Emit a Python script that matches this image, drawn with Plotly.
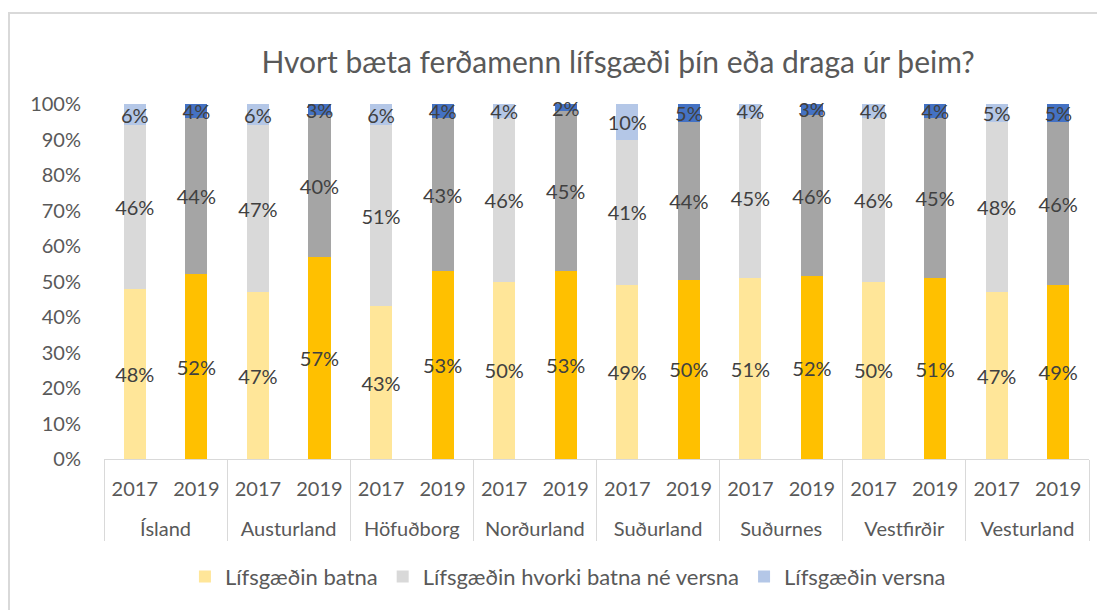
import plotly.graph_objects as go

regions = ["Ísland", "Austurland", "Höfuðborg", "Norðurland", "Suðurland", "Suðurnes", "Vestfirðir", "Vesturland"]
years = ["2017", "2019"]

# values per bar, order: region x year (2017, 2019)
batna = [48, 52, 47, 57, 43, 53, 50, 53, 49, 50, 51, 52, 50, 51, 47, 49]
hvorki = [46, 44, 47, 40, 51, 43, 46, 45, 41, 44, 45, 46, 46, 45, 48, 46]
versna = [6, 4, 6, 3, 6, 4, 4, 2, 10, 5, 4, 3, 4, 4, 5, 5]

series_names = ["Lífsgæðin batna", "Lífsgæðin hvorki batna né versna", "Lífsgæðin versna"]
title = "Hvort bæta ferðamenn lífsgæði þín eða draga úr þeim?"

colors = {
    "2017": ["#FFE699", "#D9D9D9", "#B4C7E7"],
    "2019": ["#FFC000", "#A5A5A5", "#4472C4"],
}

FONT = "Lato"
W, H = 1097, 602
L, R, T, B = 96, 16, 96, 147
PW, PH = W - L - R, H - T - B

# outer level labels get a leading line break to push them lower (like the reference)
x_outer = ["<br>" + r for r in regions for _ in years]
x_inner = [y for _ in regions for y in years]

fig = go.Figure()
for i, (name, vals) in enumerate(zip(series_names, [batna, hvorki, versna])):
    fig.add_trace(go.Bar(
        x=[x_outer, x_inner],
        y=vals,
        name=name,
        marker=dict(color=[colors[y][i] for y in x_inner], line=dict(width=0)),
        text=[f"{v}%" for v in vals],
        textposition="inside",
        insidetextanchor="middle",
        textangle=0,
        textfont=dict(family=FONT, size=20, color="#404040"),
        cliponaxis=False,
        hoverinfo="y+name",
    ))

fig.update_layout(
    barmode="stack",
    barnorm="percent",
    bargap=0.64,
    width=W,
    height=H,
    margin=dict(l=L, r=R, t=T, b=B),
    paper_bgcolor="white",
    plot_bgcolor="white",
    font=dict(family=FONT, color="#595959"),
    uniformtext=dict(minsize=20, mode="show"),
    title=dict(text=title, x=610 / W, xanchor="center", y=1 - 54 / H, yanchor="middle",
               font=dict(family=FONT, size=30, color="#595959")),
    legend=dict(orientation="h", x=0.471, xanchor="center", y=(455 - 574) / PH, yanchor="middle",
                font=dict(family=FONT, size=22, color="#595959"), traceorder="normal",
                itemwidth=30),
    xaxis=dict(
        type="multicategory",
        showline=True, linecolor="#D9D9D9", linewidth=1,
        showdividers=True, dividercolor="#D9D9D9", dividerwidth=1,
        tickfont=dict(family=FONT, size=20, color="#595959"),
        ticklabelstandoff=12,
        showgrid=False, zeroline=False,
    ),
    yaxis=dict(
        range=[0, 100.05], tickmode="linear", tick0=0, dtick=10, ticksuffix="%",
        showgrid=False, zeroline=False, showline=False,
        tickfont=dict(family=FONT, size=20, color="#595959"),
        ticklabelstandoff=22,
    ),
    shapes=[dict(type="rect", xref="paper", yref="paper",
                 x0=(1 - L) / PW, x1=1.2, y0=-0.6, y1=1 + (T - 4) / PH,
                 line=dict(color="#D9D9D9", width=2), fillcolor="rgba(0,0,0,0)", layer="below")],
)

fig.write_html("out.html")
